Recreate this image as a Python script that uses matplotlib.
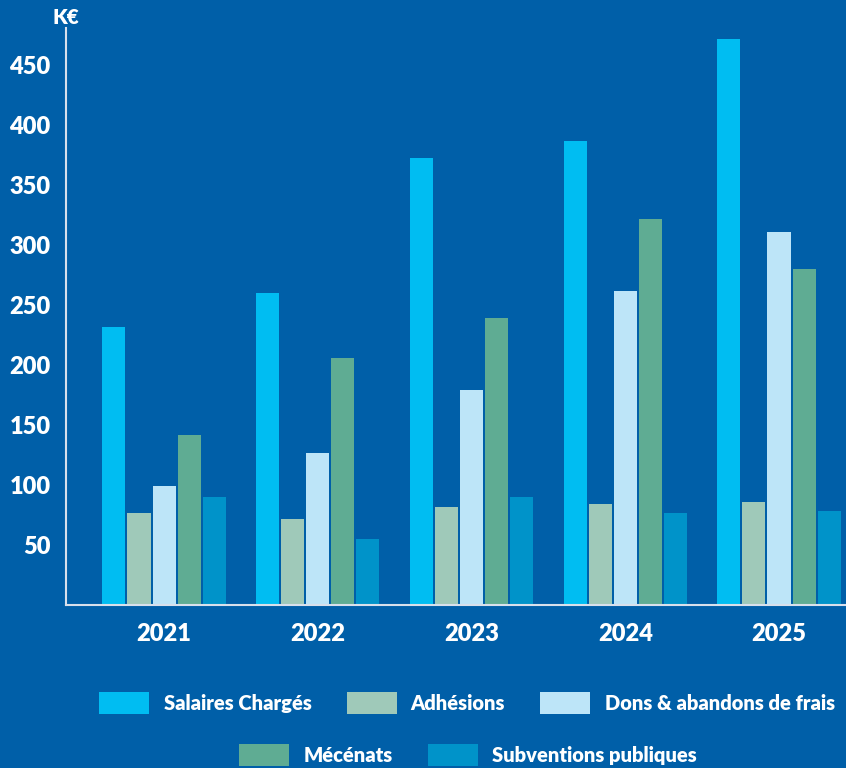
import numpy as np
import matplotlib.pyplot as plt

plt.rcParams['font.family'] = ['Lato', 'DejaVu Sans']
plt.rcParams['font.weight'] = 'heavy'

years = ['2021', '2022', '2023', '2024', '2025']
series = ['Salaires Chargés', 'Adhésions', 'Dons & abandons de frais',
          'Mécénats', 'Subventions publiques']
salaires = [232, 260, 373, 387, 472]
adhesions = [77, 72, 82, 84, 86]
dons = [99, 127, 179, 262, 311]
mecenats = [142, 206, 239, 322, 280]
subventions = [90, 55, 90, 77, 78]
colors = ['#00bdf2', '#9fc9b9', '#bde5f8', '#5fac93', '#0093c9']

bg = '#005fa8'
fig = plt.figure(figsize=(8.46, 7.68), dpi=100, facecolor=bg)
ax = fig.add_axes([66 / 846, 163 / 768, 780 / 846, 577 / 768], facecolor=bg)

x = np.arange(len(years))
width = 0.15
step = 0.163
handles = []
for i, (vals, col) in enumerate(zip([salaires, adhesions, dons, mecenats, subventions], colors)):
    b = ax.bar(x + (i - 2) * step, vals, width, color=col, label=series[i])
    handles.append(b)

ax.set_xlim(-0.638, 4.436)
ax.set_ylim(0, 481)
ax.set_yticks([50, 100, 150, 200, 250, 300, 350, 400, 450])
ax.set_xticks(x)
ax.set_xticklabels(years)
ax.tick_params(colors='white', labelsize=17, length=0)
ax.tick_params(axis='y', pad=11)
ax.tick_params(axis='x', pad=13)
for s in ['top', 'right']:
    ax.spines[s].set_visible(False)
for s in ['left', 'bottom']:
    ax.spines[s].set_color('#d8e0ec')
    ax.spines[s].set_linewidth(1.5)

fig.text(66 / 846, 1 - 17 / 768, 'K€', color='white', fontsize=15,
         ha='center', va='center')

leg_kw = dict(frameon=False, fontsize=14.5, handlelength=2.49, handleheight=1.29,
              handletextpad=0.7, columnspacing=1.74, labelcolor='white')
leg1 = fig.legend(handles[:3], series[:3], loc='center',
                  bbox_to_anchor=(467 / 846, 1 - 703 / 768), ncol=3, **leg_kw)
leg2 = fig.legend(handles[3:], series[3:], loc='center',
                  bbox_to_anchor=(468 / 846, 1 - 755 / 768), ncol=2, **leg_kw)

fig.savefig('out.png', dpi=100, facecolor=bg)
